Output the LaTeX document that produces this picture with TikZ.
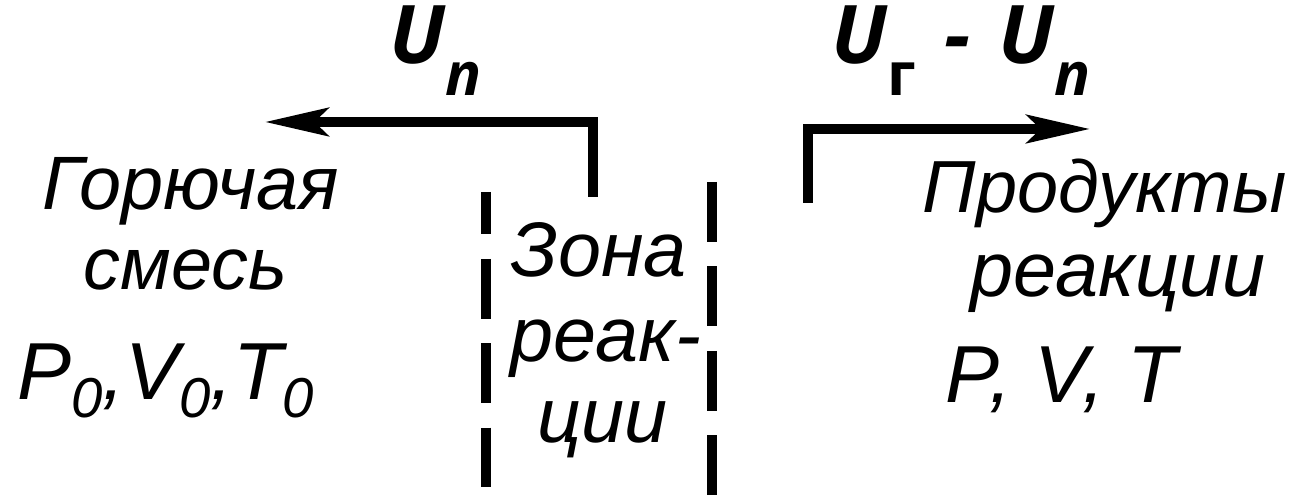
\documentclass[tikz,border=0pt]{standalone}
\usepackage{fontspec}
\setmainfont{Liberation Sans}
\newfontfamily\velfont{Open Sans}
\usetikzlibrary{arrows.meta}

\tikzset{
	label txt/.style = {font = \itshape\fontsize{22}{26}\selectfont, inner sep = 0pt, anchor = base west},
	vel txt/.style = {font = \velfont\bfseries\itshape\fontsize{23}{27}\selectfont, inner sep = 0pt, anchor = base west},
	flow/.style = {line width = 2.8pt, ->},
	front/.style = {line width = 3pt, dash pattern = on 17pt off 7pt}
}

\newcommand{\velsub}[1]{\lower9pt\hbox{\fontsize{17}{17}\selectfont #1}}
\newcommand{\statesub}[1]{\lower5pt\hbox{\fontsize{16}{16}\selectfont #1}}

\begin{document}
\begin{tikzpicture}[x = 0.01cm, y = -0.01cm, > = {Stealth[length = 18pt, width = 8pt, inset = 4pt]}]

	\useasboundingbox (0, 0) rectangle (1295, 495);

	% Velocities
	
	\node [vel txt] (un) at (389, 64) {U\velsub{n}};
	\node [vel txt] (ug) at (831, 64) {U\velsub{\upshape г}\hspace{8pt}-\hspace{8pt}U\velsub{n}};
	
	\coordinate (left start) at (593, 197);
	\coordinate (left tip) at (265, 122);
	\coordinate (right start) at (808, 203);
	\coordinate (right tip) at (1090, 129);
	
	\draw [flow] (left start) |- (left tip);
	\draw [flow] (right start) |- (right tip);

	% Reaction zone borders
	
	\coordinate (zone l top) at (486, 192);
	\coordinate (zone l bot) at (486, 495);
	\coordinate (zone r top) at (712, 182);
	\coordinate (zone r bot) at (712, 495);
	
	\draw [front, dash phase = 5pt] (zone l top) -- (zone l bot);
	\draw [front] (zone r top) -- (zone r bot);
	
	% Fresh mixture
	
	\node [label txt, font = \itshape\fontsize{21.5}{26}\selectfont] (mix1) at (42, 210) {Горючая};
	\node [label txt, font = \itshape\fontsize{21}{26}\selectfont] (mix2) at (83, 290) {смесь};
	\node [label txt, font = \itshape\fontsize{23}{26}\selectfont] (mix3) at (17, 400) {P\statesub{0},V\statesub{0},T\statesub{0}};
	
	% Zone
	
	\node [label txt] (zone1) at (510, 277) {Зона};
	\node [label txt] (zone2) at (510, 362) {реак-};
	\node [label txt] (zone3) at (537, 443) {ции};
	
	% Products
	
	\node [label txt, font = \itshape\fontsize{21}{26}\selectfont] (prod1) at (922, 213) {Продукты};
	\node [label txt] (prod2) at (970, 297) {реакции};
	\node [label txt, font = \itshape\fontsize{23}{26}\selectfont] (prod3) at (945, 403) {P, V, T};

\end{tikzpicture}
\end{document}
